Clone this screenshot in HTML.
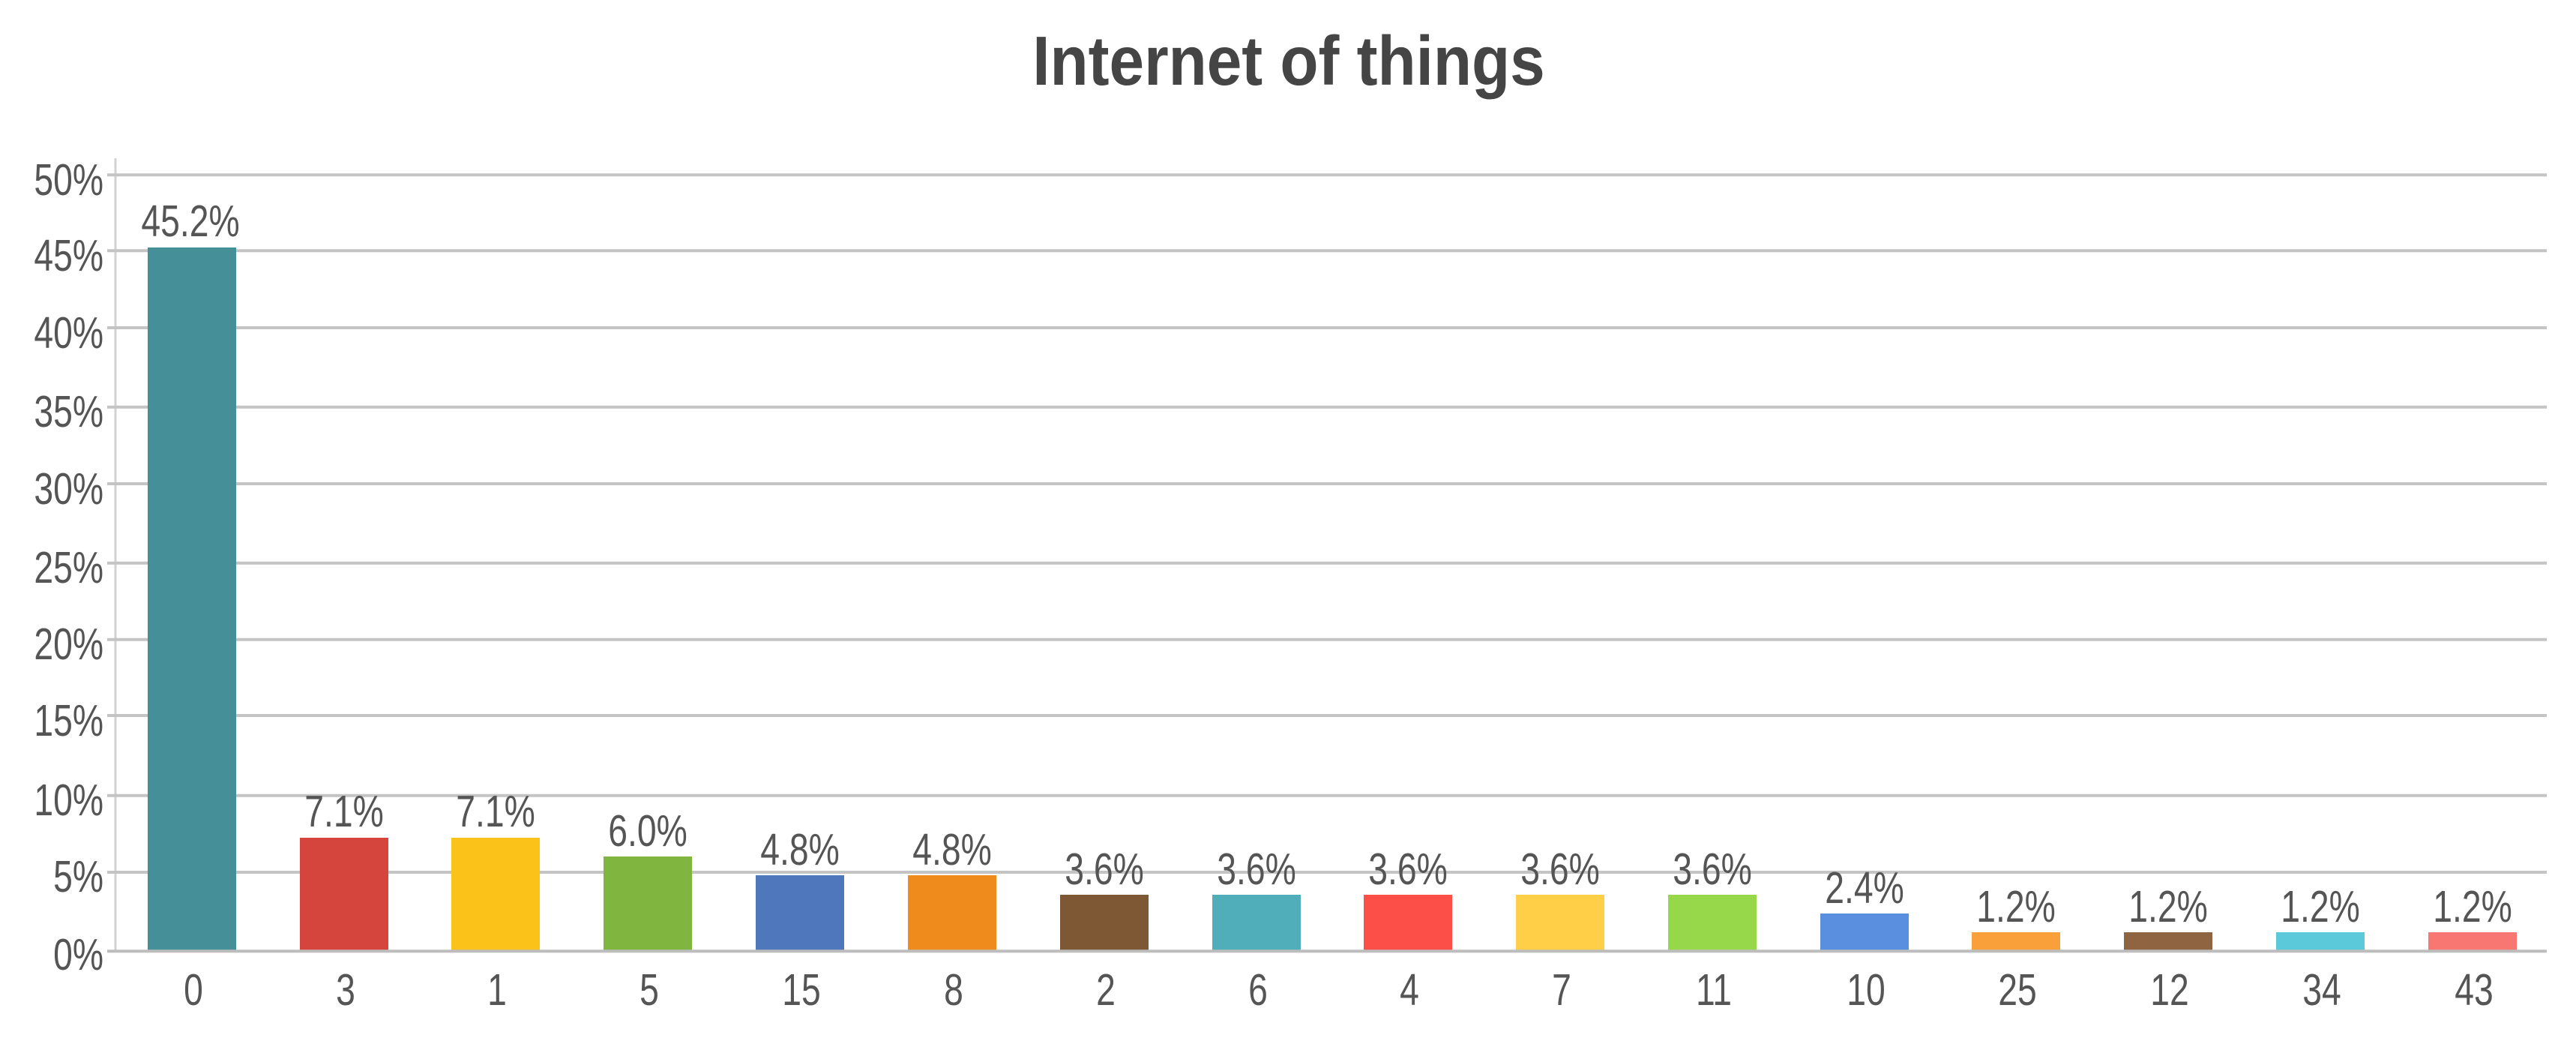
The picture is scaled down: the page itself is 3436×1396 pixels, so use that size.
<!DOCTYPE html>
<html>
<head>
<meta charset="utf-8">
<style>
  html,body{margin:0;padding:0;background:#ffffff;}
  body{width:3436px;height:1396px;overflow:hidden;}
  svg{display:block;}
  .t{font-family:"Liberation Sans",sans-serif;font-size:59px;fill:#555555;}
  .title{font-family:"Liberation Sans",sans-serif;font-size:93px;font-weight:bold;fill:#454545;}
</style>
</head>
<body>
<svg width="3436" height="1396" viewBox="0 0 3436 1396" xmlns="http://www.w3.org/2000/svg">
  <rect x="0" y="0" width="3436" height="1396" fill="#ffffff"/>
  <!-- title -->
  <text class="title" text-anchor="middle" transform="translate(1719,113) scale(0.90,1)">Internet of things</text>

  <!-- y axis line -->
  <line x1="154" y1="211" x2="154" y2="1268" stroke="#d2d2d2" stroke-width="3"/>

  <!-- gridlines -->
  <g stroke="#c4c4c4" stroke-width="4">
    <line x1="143" y1="233.3" x2="3397" y2="233.3"/>
    <line x1="143" y1="334.3" x2="3397" y2="334.3"/>
    <line x1="143" y1="437" x2="3397" y2="437"/>
    <line x1="143" y1="542.7" x2="3397" y2="542.7"/>
    <line x1="143" y1="645" x2="3397" y2="645"/>
    <line x1="143" y1="750.7" x2="3397" y2="750.7"/>
    <line x1="143" y1="852.7" x2="3397" y2="852.7"/>
    <line x1="143" y1="954" x2="3397" y2="954"/>
    <line x1="143" y1="1060.7" x2="3397" y2="1060.7"/>
    <line x1="143" y1="1163" x2="3397" y2="1163"/>
  </g>

  <!-- y labels -->
  <g class="t" text-anchor="end">
    <text transform="translate(138,260) scale(0.785,1)">50%</text>
    <text transform="translate(138,361) scale(0.785,1)">45%</text>
    <text transform="translate(138,464) scale(0.785,1)">40%</text>
    <text transform="translate(138,569) scale(0.785,1)">35%</text>
    <text transform="translate(138,672) scale(0.785,1)">30%</text>
    <text transform="translate(138,777) scale(0.785,1)">25%</text>
    <text transform="translate(138,879) scale(0.785,1)">20%</text>
    <text transform="translate(138,981) scale(0.785,1)">15%</text>
    <text transform="translate(138,1087) scale(0.785,1)">10%</text>
    <text transform="translate(138,1189) scale(0.785,1)">5%</text>
    <text transform="translate(138,1293) scale(0.785,1)">0%</text>
  </g>

  <!-- bars -->
  <g>
    <rect x="197"  y="330"  width="118" height="938" fill="#458F99"/>
    <rect x="400"  y="1117" width="118" height="151" fill="#D5443D"/>
    <rect x="602"  y="1117" width="118" height="151" fill="#FBC21A"/>
    <rect x="805"  y="1142" width="118" height="126" fill="#80B640"/>
    <rect x="1008" y="1167" width="118" height="101" fill="#4E77BC"/>
    <rect x="1211" y="1167" width="118" height="101" fill="#EF8A1D"/>
    <rect x="1414" y="1193" width="118" height="75"  fill="#7E5735"/>
    <rect x="1617" y="1193" width="118" height="75"  fill="#50AEBB"/>
    <rect x="1819" y="1193" width="118" height="75"  fill="#FC4F48"/>
    <rect x="2022" y="1193" width="118" height="75"  fill="#FECF47"/>
    <rect x="2225" y="1193" width="118" height="75"  fill="#97D84B"/>
    <rect x="2428" y="1218" width="118" height="50"  fill="#5A8FDF"/>
    <rect x="2630" y="1243" width="118" height="25"  fill="#F9A03B"/>
    <rect x="2833" y="1243" width="118" height="25"  fill="#8F6441"/>
    <rect x="3036" y="1243" width="118" height="25"  fill="#5BC9DA"/>
    <rect x="3239" y="1243" width="118" height="25"  fill="#F87772"/>
  </g>

  <!-- baseline (0%) -->
  <line x1="143" y1="1268.3" x2="3397" y2="1268.3" stroke="#bdbdbd" stroke-width="4"/>

  <!-- value labels -->
  <g class="t" text-anchor="middle">
    <text transform="translate(254,315) scale(0.785,1)">45.2%</text>
    <text transform="translate(459,1102) scale(0.785,1)">7.1%</text>
    <text transform="translate(661,1102) scale(0.785,1)">7.1%</text>
    <text transform="translate(864,1128) scale(0.785,1)">6.0%</text>
    <text transform="translate(1067,1153) scale(0.785,1)">4.8%</text>
    <text transform="translate(1270,1153) scale(0.785,1)">4.8%</text>
    <text transform="translate(1473,1179) scale(0.785,1)">3.6%</text>
    <text transform="translate(1676,1179) scale(0.785,1)">3.6%</text>
    <text transform="translate(1878,1179) scale(0.785,1)">3.6%</text>
    <text transform="translate(2081,1179) scale(0.785,1)">3.6%</text>
    <text transform="translate(2284,1179) scale(0.785,1)">3.6%</text>
    <text transform="translate(2487,1204) scale(0.785,1)">2.4%</text>
    <text transform="translate(2689,1229) scale(0.785,1)">1.2%</text>
    <text transform="translate(2892,1229) scale(0.785,1)">1.2%</text>
    <text transform="translate(3095,1229) scale(0.785,1)">1.2%</text>
    <text transform="translate(3298,1229) scale(0.785,1)">1.2%</text>
  </g>

  <!-- x labels -->
  <g class="t" text-anchor="middle">
    <text transform="translate(258,1340) scale(0.785,1)">0</text>
    <text transform="translate(461,1340) scale(0.785,1)">3</text>
    <text transform="translate(663,1340) scale(0.785,1)">1</text>
    <text transform="translate(866,1340) scale(0.785,1)">5</text>
    <text transform="translate(1069,1340) scale(0.785,1)">15</text>
    <text transform="translate(1272,1340) scale(0.785,1)">8</text>
    <text transform="translate(1475,1340) scale(0.785,1)">2</text>
    <text transform="translate(1678,1340) scale(0.785,1)">6</text>
    <text transform="translate(1880,1340) scale(0.785,1)">4</text>
    <text transform="translate(2083,1340) scale(0.785,1)">7</text>
    <text transform="translate(2286,1340) scale(0.785,1)">11</text>
    <text transform="translate(2489,1340) scale(0.785,1)">10</text>
    <text transform="translate(2691,1340) scale(0.785,1)">25</text>
    <text transform="translate(2894,1340) scale(0.785,1)">12</text>
    <text transform="translate(3097,1340) scale(0.785,1)">34</text>
    <text transform="translate(3300,1340) scale(0.785,1)">43</text>
  </g>
</svg>
</body>
</html>
